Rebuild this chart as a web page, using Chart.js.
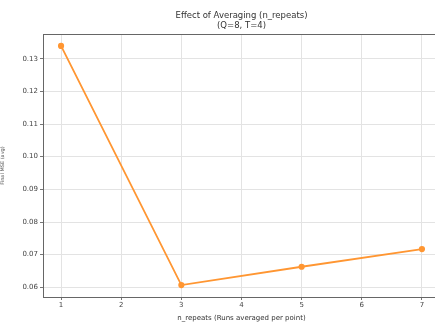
<!DOCTYPE html>
<html>
<head>
<meta charset="utf-8">
<script src="https://cdn.jsdelivr.net/npm/chart.js@4"></script>
<style>
  html, body { margin: 0; padding: 0; background: #fff; overflow: hidden; }
  #wrap { width: 444px; height: 322px; }
</style>
</head>
<body>
<div id="wrap"><canvas id="avgChart"></canvas></div>
<script>
// data
const nRepeats = [1, 3, 5, 7];
const finalMse = [0.1339, 0.0607, 0.0663, 0.0717];
const xTicks = [1, 2, 3, 4, 5, 6, 7];
const yTicks = [0.06, 0.07, 0.08, 0.09, 0.10, 0.11, 0.12, 0.13];

const titleLines = ["Effect of Averaging (n_repeats)", "(Q=8, T=4)"];
const tickFont = { family: "DejaVu Sans", size: 7 };

// title centred on the plot area + the top/right frame lines
const titlePlugin = {
  id: "plotTitle",
  afterDraw(chart) {
    const c = chart.ctx;
    const area = chart.chartArea;
    const cx = (area.left + area.right) / 2;
    c.save();
    c.strokeStyle = "#666";
    c.lineWidth = 1;
    c.beginPath();
    c.moveTo(area.left, area.top + 0.5);
    c.lineTo(area.right, area.top + 0.5);
    c.lineTo(area.right, area.bottom);
    c.stroke();
    c.fillStyle = "#333";
    c.font = "8.5px 'DejaVu Sans'";
    c.textAlign = "center";
    c.textBaseline = "middle";
    c.fillText(titleLines[0], cx, 16);
    c.fillText(titleLines[1], cx, 26);
    c.restore();
  }
};

const ctx = document.getElementById("avgChart").getContext("2d");

const avgChart = new Chart(ctx, {
  type: "line",
  data: {
    datasets: [
      {
        label: "final mse",
        data: nRepeats.map((n, i) => ({ x: n, y: finalMse[i] })),
        borderColor: "rgb(255, 150, 50)",
        backgroundColor: "rgb(255, 150, 50)",
        borderWidth: 1.8,
        pointRadius: 2.2,
        pointHoverRadius: 2.2,
        tension: 0,
      },
    ],
  },
  options: {
    responsive: true,
    maintainAspectRatio: false,
    animation: false,
    layout: { padding: { top: 34, left: 0, right: 0, bottom: 0 } },
    plugins: {
      legend: { display: false },
      tooltip: { enabled: false },
    },
    scales: {
      x: {
        type: "linear",
        min: 0.7,
        max: 7.3,
        afterBuildTicks: (s) => { s.ticks = xTicks.map((v) => ({ value: v })); },
        afterFit: (s) => { s.height = 25; },
        ticks: { color: "#444", font: tickFont, padding: 1, maxRotation: 0 },
        grid: { color: "#e3e3e3", tickColor: "#777", tickLength: 3 },
        border: { color: "#666", width: 1 },
        title: {
          display: true,
          text: "n_repeats (Runs averaged per point)",
          color: "#333",
          font: tickFont,
          padding: { top: 0, bottom: 0 },
        },
      },
      y: {
        min: 0.05704,
        max: 0.13756,
        afterBuildTicks: (s) => { s.ticks = yTicks.map((v) => ({ value: v })); },
        afterFit: (s) => { s.width = 43; },
        ticks: {
          color: "#444",
          font: tickFont,
          padding: 2,
          callback: (v) => v.toFixed(2),
        },
        grid: { color: "#e3e3e3", tickColor: "#777", tickLength: 3 },
        border: { color: "#666", width: 1 },
        title: {
          display: true,
          text: "Final MSE (avg)",
          color: "#555",
          font: { family: "DejaVu Sans", size: 5 },
          padding: { top: 0, bottom: 2 },
        },
      },
    },
  },
  plugins: [titlePlugin],
});
</script>
</body>
</html>
